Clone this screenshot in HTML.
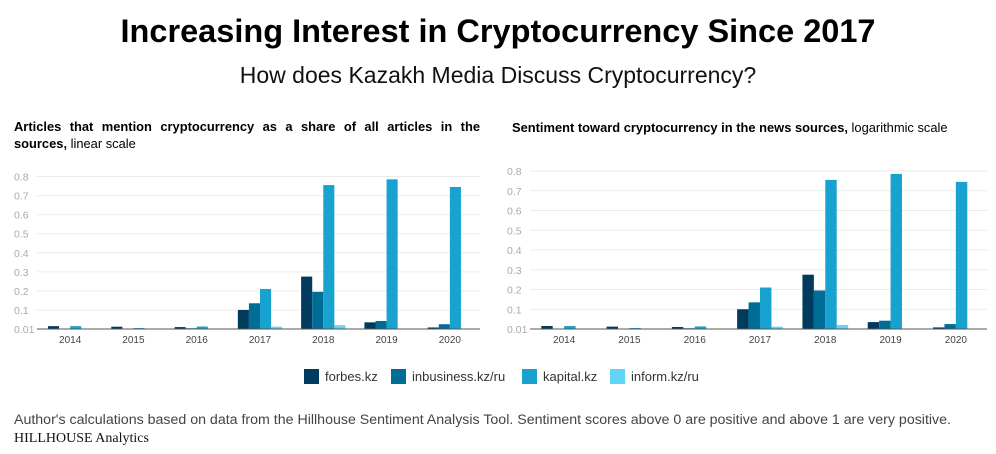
<!DOCTYPE html>
<html><head><meta charset="utf-8"><style>
body{margin:0;width:996px;height:454px;background:#fff;font-family:"Liberation Sans",sans-serif;position:relative;overflow:hidden}
.t{position:absolute;white-space:nowrap}
</style></head><body>
<div class="t" style="left:0;width:996px;text-align:center;top:13px;font-size:32.5px;font-weight:bold;color:#000">Increasing Interest in Cryptocurrency Since 2017</div>
<div class="t" style="left:0;width:996px;text-align:center;top:62px;font-size:23px;color:#111">How does Kazakh Media Discuss Cryptocurrency?</div>
<div class="t" style="left:14px;top:118px;width:466px;white-space:normal;font-size:12.9px;line-height:17px;text-align:justify;text-align-last:left;color:#000"><b>Articles that mention cryptocurrency as a share of all articles in the sources,</b> linear scale</div>
<div class="t" style="left:512px;top:120px;font-size:12.9px;color:#000"><b>Sentiment toward cryptocurrency in the news sources,</b> logarithmic scale</div>
<svg id="chart" width="996" height="454" style="position:absolute;left:0;top:0"></svg>
<div class="t" style="left:14px;top:412px;font-size:14.2px;color:#444">Author's calculations based on data from the Hillhouse Sentiment Analysis Tool. Sentiment scores above 0 are positive and above 1 are very positive.</div>
<div class="t" style="left:14px;top:431px;font-size:14px;font-family:'Liberation Serif',serif;color:#111">HILLHOUSE Analytics</div>
<script>
const years=["2014","2015","2016","2017","2018","2019","2020"];
const seriesNames=["forbes.kz","inbusiness.kz/ru","kapital.kz","inform.kz/ru"];
const forbes=[0.015,0.012,0.01,0.10,0.275,0.035,0.008];
const inbusiness=[0,0,0.004,0.135,0.195,0.042,0.025];
const kapital=[0.015,0.005,0.013,0.21,0.755,0.785,0.745];
const inform=[0,0,0,0.012,0.02,0,0];
const tickValues=[0,0.1,0.2,0.3,0.4,0.5,0.6,0.7,0.8];
const tickLabels=["0.01","0.1","0.2","0.3","0.4","0.5","0.6","0.7","0.8"];
const colors=["#003a5c","#006d96","#17a2cf","#62d4f6"];
const NS="http://www.w3.org/2000/svg";
const svg=document.getElementById('chart');
function mk(tag,attrs,parent){const e=document.createElementNS(NS,tag);for(const k in attrs)e.setAttribute(k,attrs[k]);(parent||svg).appendChild(e);return e;}
function draw(x0,x1,yBase,yTop,labelX,prefix){
  const g=mk('g',{});
  
  
  const y=v=>yBase-(v/0.8)*(yBase-yTop);
  tickValues.forEach((v,i)=>{
    if(i>0){const l=mk('line',{x1:x0,x2:x1,y1:y(v),y2:y(v),stroke:'#ebebeb','stroke-width':1},g);
    }
    const t=mk('text',{x:labelX,y:y(v)+4,'font-size':10.5,fill:'#aaa','font-family':'Liberation Sans,sans-serif'},g);
    
    t.textContent=tickLabels[i];
  });
  const bw=(x1-x0)/years.length;
  const barW=bw*0.175;
  const all=[forbes,inbusiness,kapital,inform];
  years.forEach((yr,i)=>{
    const c=x0+bw*(i+0.5)+1.5;
    all.forEach((s,j)=>{
      const v=s[i];if(v<=0)return;
      const r=mk('rect',{x:c-2*barW+j*barW,y:y(v),width:barW,height:yBase-y(v),fill:colors[j]},g);
      
    });
    const t=mk('text',{x:c,y:yBase+14,'font-size':10,fill:'#444','text-anchor':'middle','font-family':'Liberation Sans,sans-serif'},g);
    
    t.textContent=yr;
  });
  const ax=mk('line',{x1:x0,x2:x1,y1:yBase,y2:yBase,stroke:'#555','stroke-width':1},g);
  
}
draw(37,480,329,176.5,14,'left');
draw(530,987,329,171,507,'right');
const lx=[304,391,522,610];
seriesNames.forEach((n,j)=>{
  const r=mk('rect',{x:lx[j],y:369,width:15,height:15,fill:colors[j]});
  
  const t=mk('text',{x:lx[j]+21,y:381,'font-size':13,fill:'#333','font-family':'Liberation Sans,sans-serif'});
  
  t.textContent=n;
});
</script>
</body></html>
